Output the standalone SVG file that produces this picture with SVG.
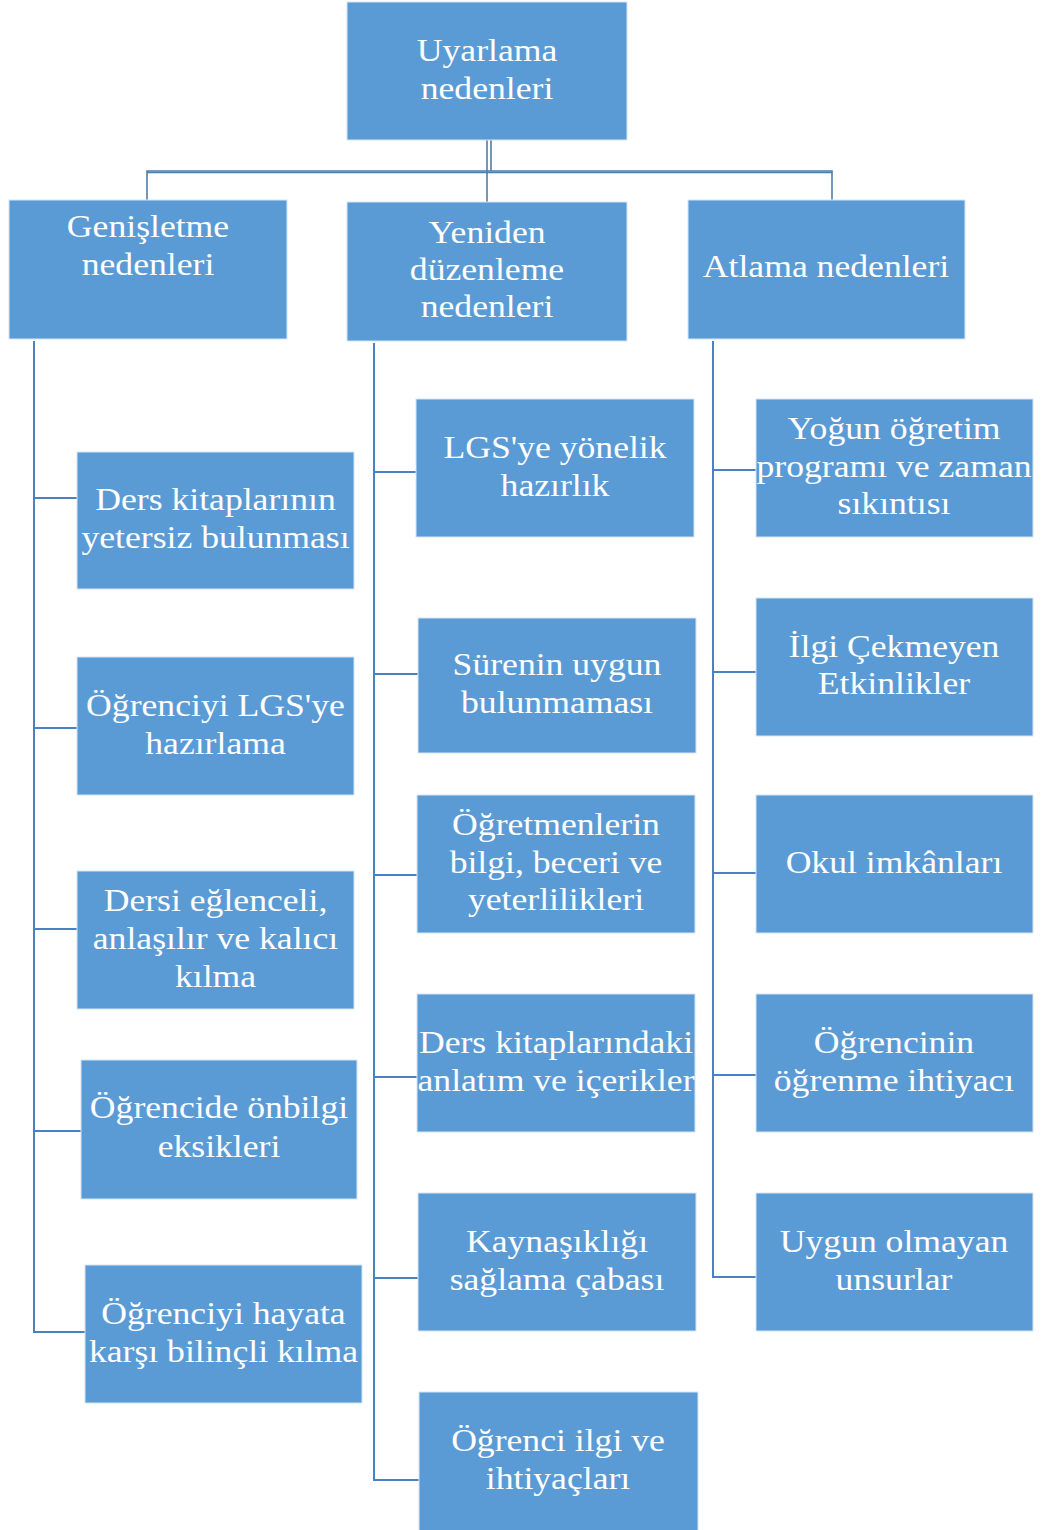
<svg xmlns="http://www.w3.org/2000/svg" width="1041" height="1530" viewBox="0 0 1041 1530">
<style>
.box{fill:#5b9bd5;stroke:#d6e4f3;stroke-width:1}
.t{font-family:"Liberation Serif","Times New Roman",serif;font-size:31px;fill:#ffffff;text-anchor:middle}
.c{fill:none;stroke:#4a80c4;stroke-width:2}
.ct{fill:none;stroke:#4f7ea8;stroke-width:1.6}
</style>
<rect width="1041" height="1530" fill="#ffffff"/>
<g id="connectors">
<path class="ct" d="M487,140 V202 M491,140 V171"/>
<path class="ct" d="M147,200 V171 H832 V200"/>
<path class="ct" d="M147,172.5 H832"/>
<path class="c" d="M34,341 V1332 H85"/>
<path class="c" d="M34,498 H77 M34,728 H77 M34,929 H77 M34,1131 H81"/>
<path class="c" d="M374,343 V1480 H419"/>
<path class="c" d="M374,472 H416 M374,674 H418 M374,875 H417 M374,1077 H417 M374,1278 H418"/>
<path class="c" d="M713,341 V1277 H756"/>
<path class="c" d="M713,470 H756 M713,672 H756 M713,873 H756 M713,1075 H756"/>
</g>
<g id="n-uyarlama"><rect class="box" x="347" y="2" width="280" height="138"/>
<text class="t" transform="matrix(1.15 0 0 1 487 0)"><tspan x="0" y="61">Uyarlama</tspan><tspan x="0" y="99">nedenleri</tspan></text></g>
<g id="n-genisletme"><rect class="box" x="9" y="200" width="278" height="139"/>
<text class="t" transform="matrix(1.15 0 0 1 148 0)"><tspan x="0" y="237">Genişletme</tspan><tspan x="0" y="275">nedenleri</tspan></text></g>
<g id="n-yeniden"><rect class="box" x="347" y="202" width="280" height="139"/>
<text class="t" transform="matrix(1.15 0 0 1 487 0)"><tspan x="0" y="243">Yeniden</tspan><tspan x="0" y="280">düzenleme</tspan><tspan x="0" y="317">nedenleri</tspan></text></g>
<g id="n-atlama"><rect class="box" x="688" y="200" width="277" height="139"/>
<text class="t" transform="matrix(1.15 0 0 1 826 0)"><tspan x="0" y="277">Atlama nedenleri</tspan></text></g>

<g id="n-l1"><rect class="box" x="77" y="452" width="277" height="137"/>
<text class="t" transform="matrix(1.15 0 0 1 215.5 0)"><tspan x="0" y="510">Ders kitaplarının</tspan><tspan x="0" y="548">yetersiz bulunması</tspan></text></g>
<g id="n-l2"><rect class="box" x="77" y="657" width="277" height="138"/>
<text class="t" transform="matrix(1.15 0 0 1 215.5 0)"><tspan x="0" y="716">Öğrenciyi LGS'ye</tspan><tspan x="0" y="754">hazırlama</tspan></text></g>
<g id="n-l3"><rect class="box" x="77" y="871" width="277" height="138"/>
<text class="t" transform="matrix(1.15 0 0 1 215.5 0)"><tspan x="0" y="911">Dersi eğlenceli,</tspan><tspan x="0" y="949">anlaşılır ve kalıcı</tspan><tspan x="0" y="987">kılma</tspan></text></g>
<g id="n-l4"><rect class="box" x="81" y="1060" width="276" height="139"/>
<text class="t" transform="matrix(1.15 0 0 1 219 0)"><tspan x="0" y="1118">Öğrencide önbilgi</tspan><tspan x="0" y="1157">eksikleri</tspan></text></g>
<g id="n-l5"><rect class="box" x="85" y="1265" width="277" height="138"/>
<text class="t" transform="matrix(1.15 0 0 1 223.5 0)"><tspan x="0" y="1324">Öğrenciyi hayata</tspan><tspan x="0" y="1362">karşı bilinçli kılma</tspan></text></g>

<g id="n-m1"><rect class="box" x="416" y="399" width="278" height="138"/>
<text class="t" transform="matrix(1.15 0 0 1 555 0)"><tspan x="0" y="458">LGS'ye yönelik</tspan><tspan x="0" y="496">hazırlık</tspan></text></g>
<g id="n-m2"><rect class="box" x="418" y="618" width="278" height="135"/>
<text class="t" transform="matrix(1.15 0 0 1 557 0)"><tspan x="0" y="675">Sürenin uygun</tspan><tspan x="0" y="713">bulunmaması</tspan></text></g>
<g id="n-m3"><rect class="box" x="417" y="795" width="278" height="138"/>
<text class="t" transform="matrix(1.15 0 0 1 556 0)"><tspan x="0" y="835">Öğretmenlerin</tspan><tspan x="0" y="873">bilgi, beceri ve</tspan><tspan x="0" y="910">yeterlilikleri</tspan></text></g>
<g id="n-m4"><rect class="box" x="417" y="994" width="278" height="138"/>
<text class="t" transform="matrix(1.15 0 0 1 556 0)"><tspan x="0" y="1053">Ders kitaplarındaki</tspan><tspan x="0" y="1091">anlatım ve içerikler</tspan></text></g>
<g id="n-m5"><rect class="box" x="418" y="1193" width="278" height="138"/>
<text class="t" transform="matrix(1.15 0 0 1 557 0)"><tspan x="0" y="1252">Kaynaşıklığı</tspan><tspan x="0" y="1290">sağlama çabası</tspan></text></g>
<g id="n-m6"><rect class="box" x="419" y="1392" width="279" height="140"/>
<text class="t" transform="matrix(1.15 0 0 1 558 0)"><tspan x="0" y="1451">Öğrenci ilgi ve</tspan><tspan x="0" y="1489">ihtiyaçları</tspan></text></g>

<g id="n-r1"><rect class="box" x="756" y="399" width="277" height="138"/>
<text class="t" transform="matrix(1.15 0 0 1 894 0)"><tspan x="0" y="439">Yoğun öğretim</tspan><tspan x="0" y="477">programı ve zaman</tspan><tspan x="0" y="514">sıkıntısı</tspan></text></g>
<g id="n-r2"><rect class="box" x="756" y="598" width="277" height="138"/>
<text class="t" transform="matrix(1.15 0 0 1 894 0)"><tspan x="0" y="657">İlgi Çekmeyen</tspan><tspan x="0" y="694">Etkinlikler</tspan></text></g>
<g id="n-r3"><rect class="box" x="756" y="795" width="277" height="138"/>
<text class="t" transform="matrix(1.15 0 0 1 894 0)"><tspan x="0" y="873">Okul imkânları</tspan></text></g>
<g id="n-r4"><rect class="box" x="756" y="994" width="277" height="138"/>
<text class="t" transform="matrix(1.15 0 0 1 894 0)"><tspan x="0" y="1053">Öğrencinin</tspan><tspan x="0" y="1091">öğrenme ihtiyacı</tspan></text></g>
<g id="n-r5"><rect class="box" x="756" y="1193" width="277" height="138"/>
<text class="t" transform="matrix(1.15 0 0 1 894 0)"><tspan x="0" y="1252">Uygun olmayan</tspan><tspan x="0" y="1290">unsurlar</tspan></text></g>
</svg>
